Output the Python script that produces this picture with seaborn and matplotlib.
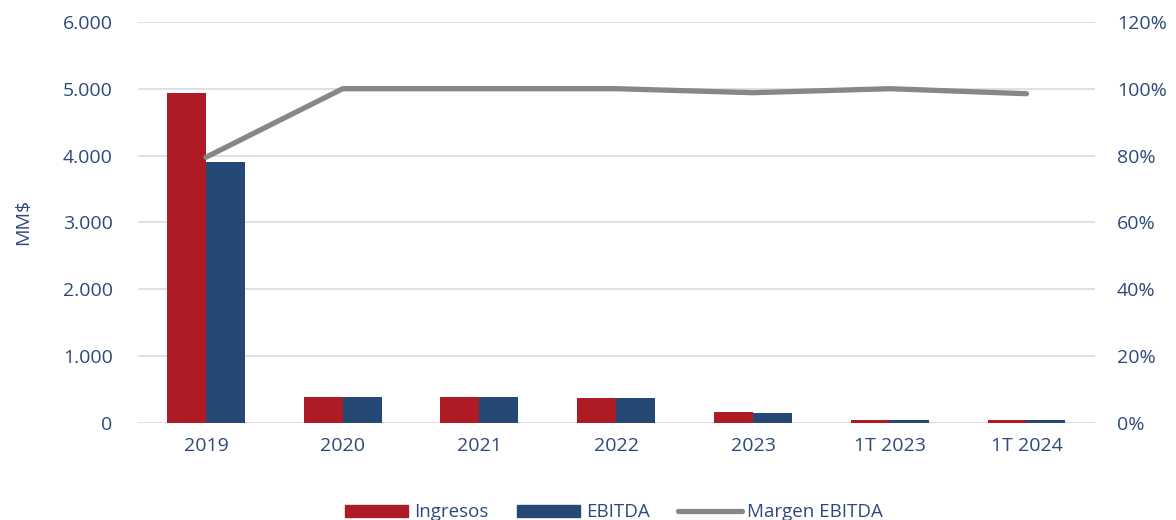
import pandas as pd
import matplotlib
matplotlib.use("Agg")
import matplotlib.pyplot as plt
from matplotlib.ticker import FuncFormatter
from matplotlib.patches import Patch
from matplotlib.lines import Line2D
import seaborn as sns

# DATOS
periodos = ["2019", "2020", "2021", "2022", "2023", "1T 2023", "1T 2024"]
ingresos = [4940, 385, 395, 380, 160, 45, 40]
ebitda = [3910, 383, 393, 378, 150, 42, 38]
margen = [0.795, 1.0, 1.0, 1.0, 0.988, 1.0, 0.985]

COLOR_ING = "#ae1b24"
COLOR_EBI = "#264874"
COLOR_MAR = "#878787"
COLOR_TXT = "#2e4a7a"
COLOR_GRID = "#dcdcea"

sns.set_style("white")
plt.rcParams["font.family"] = ["Open Sans", "DejaVu Sans"]

df = pd.DataFrame({"Periodo": periodos, "Ingresos": ingresos, "EBITDA": ebitda})
df_largo = df.melt(id_vars="Periodo", var_name="Serie", value_name="Valor")
df_margen = pd.DataFrame({"Periodo": periodos, "Margen": margen})

fig = plt.figure(figsize=(11.76, 5.2), dpi=100)
ax = fig.add_axes([0.117, 0.1865, 0.814, 0.7715])

sns.barplot(data=df_largo, x="Periodo", y="Valor", hue="Serie",
            palette=[COLOR_ING, COLOR_EBI], width=0.57, saturation=1,
            linewidth=0, ax=ax, legend=False)

ax.set_ylim(0, 6000)
ax.set_yticks(range(0, 6001, 1000))
ax.yaxis.set_major_formatter(FuncFormatter(lambda v, p: f"{int(v):,}".replace(",", ".")))
ax.grid(axis="y", color=COLOR_GRID, linewidth=1.3)
ax.set_axisbelow(True)
for s in ax.spines.values():
    s.set_visible(False)
ax.set_xlabel("")
ax.set_ylabel("MM$", color=COLOR_TXT, fontsize=14, labelpad=22)
ax.tick_params(axis="both", length=0, labelsize=14, labelcolor=COLOR_TXT)
ax.tick_params(axis="x", pad=10)
ax.tick_params(axis="y", pad=18)

ax2 = ax.twinx()
sns.lineplot(data=df_margen, x="Periodo", y="Margen", color=COLOR_MAR,
             linewidth=3.8, sort=False, ax=ax2, solid_capstyle="round")
ax2.set_ylim(0, 1.2)
ax2.set_yticks([i / 5 for i in range(7)])
ax2.yaxis.set_major_formatter(FuncFormatter(lambda v, p: f"{v * 100:.0f}%"))
ax2.set_ylabel("")
for s in ax2.spines.values():
    s.set_visible(False)
ax2.tick_params(axis="y", length=0, labelsize=14, labelcolor=COLOR_TXT, pad=16)
ax.set_xlim(-0.5, len(periodos) - 0.5)
ax2.set_xlim(-0.5, len(periodos) - 0.5)

handles = [Patch(color=COLOR_ING, label="Ingresos"),
           Patch(color=COLOR_EBI, label="EBITDA"),
           Line2D([], [], color=COLOR_MAR, linewidth=3.8, label="Margen EBITDA")]
leg = fig.legend(handles=handles, loc="lower center", ncol=3, frameon=False,
                 bbox_to_anchor=(0.522, -0.035), fontsize=13.5, handlelength=3.4,
                 handleheight=0.6, columnspacing=1.5, handletextpad=0.3)
for t in leg.get_texts():
    t.set_color(COLOR_TXT)

fig.savefig("out.png", dpi=100)
